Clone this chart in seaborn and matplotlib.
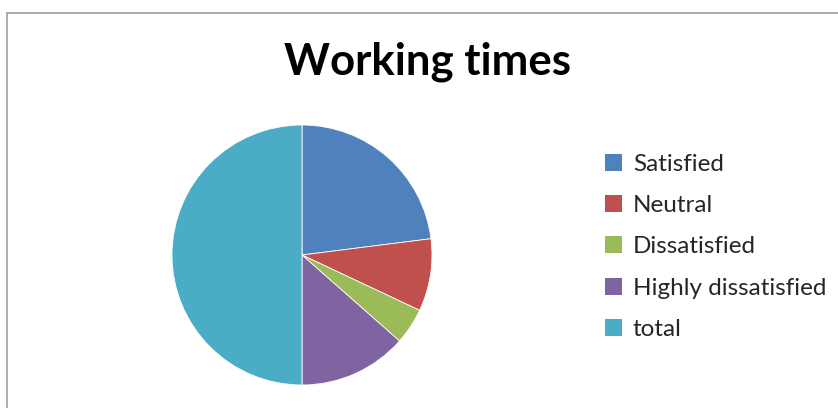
import matplotlib
matplotlib.use("Agg")
import matplotlib.pyplot as plt
import matplotlib.patches as mpatches
import seaborn as sns

categories = ["Satisfied", "Neutral", "Dissatisfied", "Highly dissatisfied", "total"]
values = [46, 18, 9, 27, 100]
colors = ["#4F81BD", "#C0504D", "#9BBB59", "#8064A2", "#4BACC6"]
title = "Working times"

sns.set_theme(style="white")
plt.rcParams["font.family"] = ["Lato", "DejaVu Sans"]

W, H = 838, 408
fig = plt.figure(figsize=(W / 100, H / 100), dpi=100)
fig.patch.set_facecolor("white")

# chart frame
frame = mpatches.Rectangle((7 / W, -0.1), 1.2, (H - 13) / H + 0.1, transform=fig.transFigure,
                           fill=False, edgecolor="#A0A0A0", linewidth=1.2)
fig.patches.append(frame)

cx, cy, r = 302, 255, 130
ax = fig.add_axes([(cx - r) / W, (H - cy - r) / H, 2 * r / W, 2 * r / H])
wedges, _ = ax.pie(values, colors=colors, startangle=90, counterclock=False,
                   radius=1, wedgeprops=dict(linewidth=0.6, edgecolor="white"))
ax.set_xlim(-1, 1)
ax.set_ylim(-1, 1)
ax.set_aspect("equal")
ax.axis("off")

fig.text(428 / W, (H - 75) / H, title, ha="center", va="baseline",
         fontsize=31.5, fontweight="bold", color="black")

handles = [mpatches.Patch(facecolor=c, edgecolor="none") for c in colors]
fig.legend(handles, categories, loc="upper left", bbox_to_anchor=(605 / W, (H - 154) / H),
           frameon=False, fontsize=17.5, handlelength=0.7, handleheight=0.7,
           handletextpad=0.45, labelspacing=0.83, borderaxespad=0, borderpad=0)

fig.savefig("out.png", dpi=100)
